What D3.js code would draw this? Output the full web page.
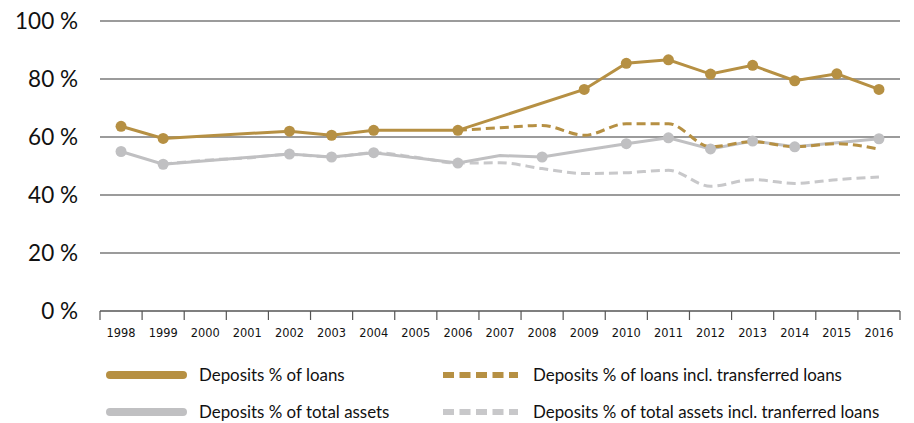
<!DOCTYPE html>
<html>
<head>
<meta charset="utf-8">
<script src="https://cdn.jsdelivr.net/npm/d3@7"></script>
<style>
  body { margin: 0; background: #fff; }
  svg { display: block; }
</style>
</head>
<body>
<div id="chart"></div>
<script>
// Données
const years = ["1998", "1999", "2000", "2001", "2002", "2003", "2004", "2005", "2006", "2007",
               "2008", "2009", "2010", "2011", "2012", "2013", "2014", "2015", "2016"];
const yTicks = [0, 20, 40, 60, 80, 100];

const loans = [63.7, 59.5, null, null, 62.0, 60.6, 62.3, null, 62.3, null,
               null, 76.4, 85.4, 86.6, 81.7, 84.7, 79.4, 81.8, 76.4];
const loansTransferred = [null, null, null, null, null, null, null, null, 62.3, 63.2,
                          64.0, 60.6, 64.6, 64.6, 56.6, 58.4, 56.6, 57.7, 55.8];
const assets = [55.0, 50.6, null, null, 54.1, 53.1, 54.6, null, 51.0, 53.6,
                53.1, 55.4, 57.7, 59.7, 55.9, 58.6, 56.6, 58.0, 59.4];
const assetsTransferred = [null, 50.6, 52.0, 52.8, 54.0, 53.1, 54.6, 53.0, 51.0, 51.1,
                           49.1, 47.4, 47.7, 48.5, 43.0, 45.3, 44.0, 45.3, 46.2];

const loansMarkers = ["1998", "1999", "2002", "2003", "2004", "2006", "2009", "2010",
                      "2011", "2012", "2013", "2014", "2015", "2016"];
const assetsMarkers = ["1998", "1999", "2002", "2003", "2004", "2006", "2008", "2010",
                       "2011", "2012", "2013", "2014", "2016"];

const legendLabels = ["Deposits % of loans", "Deposits % of loans incl. transferred loans",
                      "Deposits % of total assets", "Deposits % of total assets incl. tranferred loans"];

const gold = "#b69043";
const grey = "#c0c0c2";
const greyLight = "#c8c8ca";

const width = 914, height = 423;

const svg = d3.select("#chart").append("svg")
    .attr("width", width)
    .attr("height", height);

const x = d3.scaleBand().domain(years).range([100, 900]);
const y = d3.scaleLinear().domain([0, 100]).range([311, 21]);
const cx = d => x(d) + x.bandwidth() / 2;

// Lignes de grille
svg.append("g").selectAll("line")
    .data(yTicks.filter(t => t > 0))
    .join("line")
    .attr("x1", 100).attr("x2", 900)
    .attr("y1", d => y(d)).attr("y2", d => y(d))
    .attr("stroke", "#7a7a7a")
    .attr("stroke-width", 1.5);

// Étiquettes de l'axe Y
svg.append("g").selectAll("text")
    .data(yTicks)
    .join("text")
    .attr("x", 78)
    .attr("y", d => y(d))
    .attr("dy", "0.36em")
    .attr("text-anchor", "end")
    .attr("font-family", "Lato, sans-serif")
    .attr("font-size", "22.5px")
    .attr("fill", "#111")
    .text(d => d + " %");

// Axe X
const xAxis = svg.append("g");
xAxis.append("line")
    .attr("x1", 100).attr("x2", 900)
    .attr("y1", y(0)).attr("y2", y(0))
    .attr("stroke", "#555")
    .attr("stroke-width", 1.5);
xAxis.selectAll("line.tick")
    .data(years.map(d => x(d)).concat([900]))
    .join("line")
    .attr("class", "tick")
    .attr("x1", d => d).attr("x2", d => d)
    .attr("y1", y(0)).attr("y2", y(0) + 9)
    .attr("stroke", "#555")
    .attr("stroke-width", 1.2);
xAxis.selectAll("text")
    .data(years)
    .join("text")
    .attr("x", d => cx(d))
    .attr("y", 337)
    .attr("text-anchor", "middle")
    .attr("font-family", "DejaVu Sans, Verdana, sans-serif")
    .attr("font-size", "11.4px")
    .attr("fill", "#111")
    .text(d => d);

// Fonction pour transformer une série en points
function toPoints(values) {
    return years.map((yr, i) => ({ year: yr, v: values[i] })).filter(d => d.v != null);
}

const straight = d3.line().x(d => cx(d.year)).y(d => y(d.v));
const smooth = d3.line().x(d => cx(d.year)).y(d => y(d.v)).curve(d3.curveMonotoneX);

// Séries en pointillés et pleines
svg.append("path")
    .attr("d", smooth(toPoints(assetsTransferred)))
    .attr("fill", "none")
    .attr("stroke", greyLight)
    .attr("stroke-width", 3)
    .attr("stroke-dasharray", "9,5");

svg.append("path")
    .attr("d", straight(toPoints(assets)))
    .attr("fill", "none")
    .attr("stroke", grey)
    .attr("stroke-width", 3);

svg.append("path")
    .attr("d", smooth(toPoints(loansTransferred)))
    .attr("fill", "none")
    .attr("stroke", gold)
    .attr("stroke-width", 3)
    .attr("stroke-dasharray", "9,5");

svg.append("path")
    .attr("d", straight(toPoints(loans)))
    .attr("fill", "none")
    .attr("stroke", gold)
    .attr("stroke-width", 3);

// Marqueurs
svg.append("g").selectAll("circle")
    .data(toPoints(assets).filter(d => assetsMarkers.includes(d.year)))
    .join("circle")
    .attr("cx", d => cx(d.year))
    .attr("cy", d => y(d.v))
    .attr("r", 5.5)
    .attr("fill", grey);

svg.append("g").selectAll("circle")
    .data(toPoints(loans).filter(d => loansMarkers.includes(d.year)))
    .join("circle")
    .attr("cx", d => cx(d.year))
    .attr("cy", d => y(d.v))
    .attr("r", 5.5)
    .attr("fill", gold);

// Légende
const legendItems = [
    { label: legendLabels[0], color: gold, dashed: false, lx: 106, ly: 375 },
    { label: legendLabels[1], color: gold, dashed: true, lx: 443, ly: 375 },
    { label: legendLabels[2], color: grey, dashed: false, lx: 106, ly: 412 },
    { label: legendLabels[3], color: greyLight, dashed: true, lx: 443, ly: 412 }
];

const legend = svg.append("g");
legendItems.forEach(item => {
    if (item.dashed) {
        legend.append("line")
            .attr("x1", item.lx).attr("x2", item.lx + 75)
            .attr("y1", item.ly).attr("y2", item.ly)
            .attr("stroke", item.color)
            .attr("stroke-width", 6)
            .attr("stroke-dasharray", "11,5.5");
    } else {
        legend.append("line")
            .attr("x1", item.lx + 4).attr("x2", item.lx + 77)
            .attr("y1", item.ly).attr("y2", item.ly)
            .attr("stroke", item.color)
            .attr("stroke-width", 8)
            .attr("stroke-linecap", "round");
    }
    legend.append("text")
        .attr("x", item.dashed ? item.lx + 90 : item.lx + 93)
        .attr("y", item.ly)
        .attr("dy", "0.36em")
        .attr("font-family", "Lato, sans-serif")
        .attr("font-size", "16.9px")
        .attr("fill", "#111")
        .text(item.label);
});
</script>
</body>
</html>
